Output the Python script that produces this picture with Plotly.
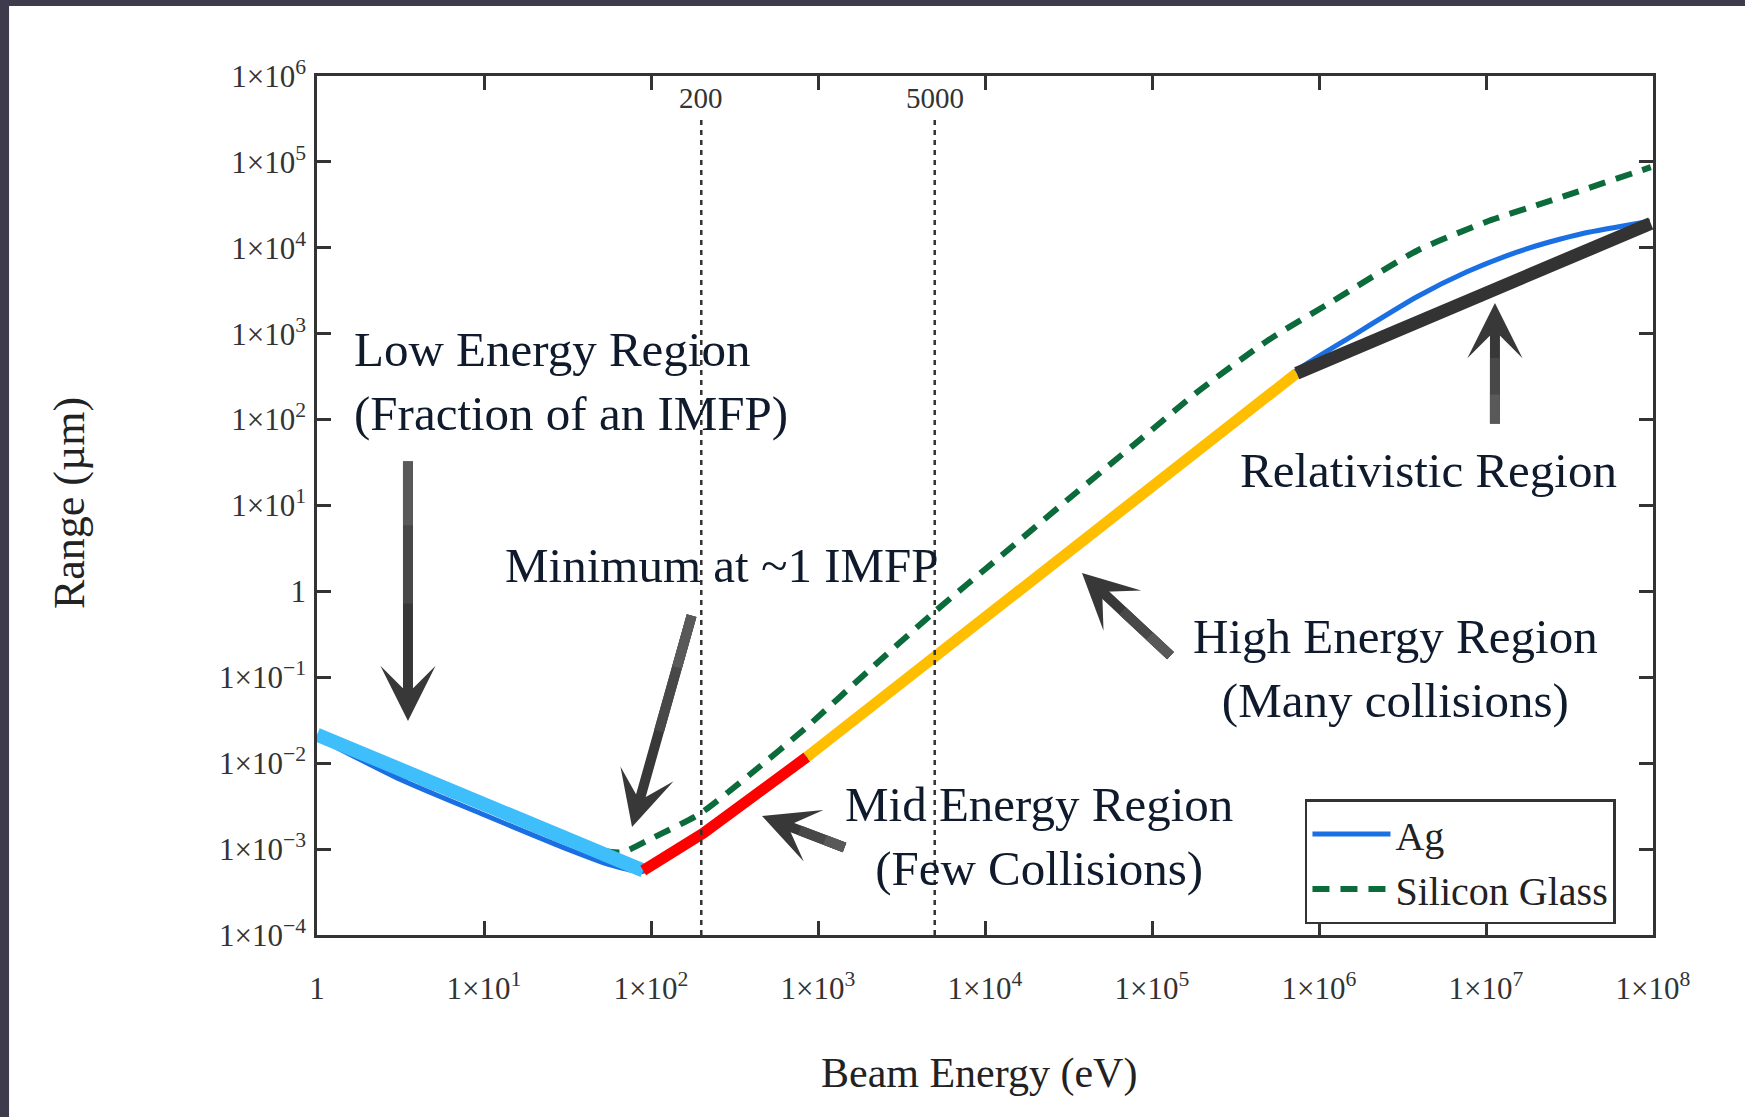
import numpy as np
import plotly.graph_objects as go

# ---------------- data ----------------
# Ag range curve: beam energy (eV) vs range (um)
ag_energy = [1, 3.16, 10, 31.6, 56.2, 89.8, 205.6, 398, 857, 3162, 1.0e4, 3.16e4, 1.0e5, 3.16e5,
             7.38e5, 1.54e6, 3.86e6, 7.69e6, 1.53e7, 2.43e7, 3.85e7, 9.6e7]
ag_range = [0.0200, 0.00646, 0.00251, 0.00100, 0.000661, 0.000550, 0.00153, 0.00417, 0.0117,
            0.0851, 0.501, 2.88, 16.6, 95.5, 375, 912, 2690, 5250, 8910, 11750, 14790, 20420]

# Silicon glass range curve
sg_energy = [1, 3.16, 10, 31.6, 56.2, 68.1, 100, 196, 398, 857, 1995, 4864, 1.26e4, 3.11e4,
             7.94e4, 1.94e5, 5.01e5, 1.22e6, 3.86e6, 1.0e7, 2.44e7, 9.7e7]
sg_range = [0.0205, 0.00759, 0.00302, 0.00120, 0.000933, 0.000923, 0.00132, 0.00258, 0.00759,
            0.0264, 0.118, 0.555, 2.63, 11.6, 52.5, 222, 851, 2420, 9250, 20000, 35400, 86700]

# Highlighted regions drawn over the Ag curve
low_energy = [1, 89.8]
low_range = [0.0215, 0.000564]
mid_energy = [89.8, 205.6, 857]
mid_range = [0.000564, 0.00153, 0.0118]
high_energy = [857, 7.36e5]
high_range = [0.0118, 347]
rel_energy = [7.36e5, 9.7e7]
rel_range = [347, 19230]

# Reference energies marked with dotted lines
mark_energy = [200, 5000]
mark_labels = ["200", "5000"]
mark_range = [1e-4, 3.3e5]

# Tick labels
x_tickvals = [1, 1e1, 1e2, 1e3, 1e4, 1e5, 1e6, 1e7, 1e8]
x_ticktext = ["1", "1×10<sup>1</sup>", "1×10<sup>2</sup>", "1×10<sup>3</sup>", "1×10<sup>4</sup>",
              "1×10<sup>5</sup>", "1×10<sup>6</sup>", "1×10<sup>7</sup>", "1×10<sup>8</sup>"]
y_tickvals = [1e-4, 1e-3, 1e-2, 1e-1, 1, 1e1, 1e2, 1e3, 1e4, 1e5, 1e6]
y_ticktext = ["1×10<sup>−4</sup>", "1×10<sup>−3</sup>", "1×10<sup>−2</sup>", "1×10<sup>−1</sup>", "1",
              "1×10<sup>1</sup>", "1×10<sup>2</sup>", "1×10<sup>3</sup>", "1×10<sup>4</sup>",
              "1×10<sup>5</sup>", "1×10<sup>6</sup>"]

# ---------------- figure ----------------
SERIF = "Liberation Serif, Times New Roman, serif"
TXT = "#0f1b2d"
PLOT_W, PLOT_H = 1336, 859

fig = go.Figure()

fig.add_trace(go.Scatter(x=sg_energy, y=sg_range, mode="lines", name="Silicon Glass",
                         line=dict(color="#0b6b3a", width=6, dash="17px,11px",
                                   shape="spline", smoothing=0.6)))
fig.add_trace(go.Scatter(x=ag_energy, y=ag_range, mode="lines", name="Ag",
                         line=dict(color="#1a6fe3", width=5, shape="spline", smoothing=0.6)))

for ex, ry, col, w in [(low_energy, low_range, "#3fbefc", 14),
                       (mid_energy, mid_range, "#ff0000", 11),
                       (high_energy, high_range, "#ffbf00", 11),
                       (rel_energy, rel_range, "#333333", 13)]:
    fig.add_trace(go.Scatter(x=ex, y=ry, mode="lines", showlegend=False, hoverinfo="skip",
                             line=dict(color=col, width=w)))

for e in mark_energy:
    fig.add_trace(go.Scatter(x=[e, e], y=mark_range, mode="lines", showlegend=False,
                             hoverinfo="skip", line=dict(color="#333333", width=2.5, dash="5px,5px")))

annotations = []
for e, lab in zip(mark_energy, mark_labels):
    annotations.append(dict(x=np.log10(e), y=5.74, xref="x", yref="y", text=lab, showarrow=False,
                            xanchor="center", yanchor="middle",
                            font=dict(family=SERIF, size=29, color="#333333")))

# region texts
annotations += [
    dict(x=0.0262, y=0.6449, xref="paper", yref="paper", xanchor="left", yanchor="middle",
         align="left", text="Low Energy Region<br>(Fraction of an IMFP)", showarrow=False,
         font=dict(family=SERIF, size=49, color=TXT)),
    dict(x=0.3031, y=0.4296, xref="paper", yref="paper", xanchor="center", yanchor="middle",
         text="Minimum at ~1 IMFP", showarrow=False, font=dict(family=SERIF, size=49, color=TXT)),
    dict(x=0.5404, y=0.1152, xref="paper", yref="paper", xanchor="center", yanchor="middle",
         align="center", text="Mid Energy Region<br>(Few Collisions)", showarrow=False,
         font=dict(family=SERIF, size=49, color=TXT)),
    dict(x=0.8076, y=0.3097, xref="paper", yref="paper", xanchor="center", yanchor="middle",
         align="center", text="High Energy Region<br>(Many collisions)", showarrow=False,
         font=dict(family=SERIF, size=49, color=TXT)),
    dict(x=0.8323, y=0.5402, xref="paper", yref="paper", xanchor="center", yanchor="middle",
         text="Relativistic Region", showarrow=False, font=dict(family=SERIF, size=49, color=TXT)),
]

# arrows (tip in paper coords, tail offset in pixels); tail part lighter to mimic gradient
for xp, yp, ax, ay in [(0.0681, 0.2491, 0, -261), (0.2358, 0.1257, 60, -213),
                       (0.3331, 0.1385, 84, 32), (0.5726, 0.4214, 90, 84),
                       (0.8817, 0.7357, 0, 122)]:
    annotations.append(dict(x=xp, y=yp, xref="paper", yref="paper", ax=ax, ay=ay,
                            axref="pixel", ayref="pixel", text="", showarrow=True,
                            arrowhead=3, arrowsize=0.92, arrowwidth=10, arrowcolor="#383838"))
    for f, col in [(0.45, "#484848"), (0.75, "#595959")]:
        annotations.append(dict(x=xp + f * ax / PLOT_W, y=yp - f * ay / PLOT_H,
                                xref="paper", yref="paper", ax=(1 - f) * ax, ay=(1 - f) * ay,
                                axref="pixel", ayref="pixel", text="", showarrow=True,
                                arrowhead=0, arrowwidth=10, arrowcolor=col))

# axis titles
annotations += [
    dict(x=0.4955, y=-0.1618, xref="paper", yref="paper", xanchor="center", yanchor="middle",
         text="Beam Energy (eV)", showarrow=False,
         font=dict(family=SERIF, size=42, color="#222222")),
    dict(x=-0.1856, y=0.5029, xref="paper", yref="paper", xanchor="center", yanchor="middle",
         text="Range (µm)", textangle=-90, showarrow=False,
         font=dict(family=SERIF, size=44, color="#222222")),
]

shapes = [
    dict(type="rect", xref="paper", yref="paper", x0=-0.24, x1=1.1, y0=1.0815, y1=1.1,
         fillcolor="#3d3b4c", line=dict(width=0), layer="above"),
    dict(type="rect", xref="paper", yref="paper", x0=-0.24, x1=-0.2305, y0=-0.25, y1=1.1,
         fillcolor="#3d3b4c", line=dict(width=0), layer="above"),
]

axis_common = dict(type="log", showgrid=False, zeroline=False, showline=True, linewidth=2.5,
                   linecolor="#333333", mirror="ticks", ticks="inside", ticklen=14, tickwidth=2.5,
                   tickcolor="#333333", tickfont=dict(family=SERIF, size=31, color="#333333"))

fig.update_layout(
    width=1745, height=1117, autosize=False,
    margin=dict(l=317, r=92, t=76, b=182),
    paper_bgcolor="white", plot_bgcolor="white",
    xaxis=dict(range=[0, 8], tickvals=x_tickvals, ticktext=x_ticktext,
               ticklabelstandoff=24, **axis_common),
    yaxis=dict(range=[-4, 6], tickvals=y_tickvals, ticktext=y_ticktext,
               ticklabelstandoff=2, **axis_common),
    legend=dict(x=0.7395, y=0.1583, xanchor="left", yanchor="top", bgcolor="white",
                bordercolor="#333333", borderwidth=2.5, itemwidth=78, traceorder="reversed",
                font=dict(family=SERIF, size=40, color="#222222"), tracegroupgap=0),
    annotations=annotations,
    shapes=shapes,
    showlegend=True,
)

fig.write_html("out.html", config={"displayModeBar": False},
               post_script="document.body.style.margin='0px';")
